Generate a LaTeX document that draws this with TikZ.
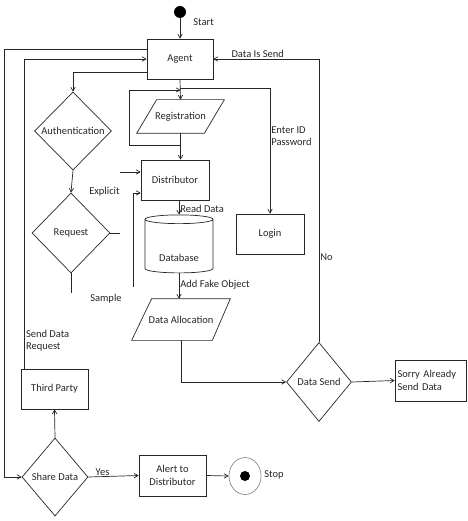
\documentclass[tikz,border=0pt]{standalone}
\usepackage{fontspec}
\setmainfont{Carlito}
\usepackage{tikz}
\usetikzlibrary{arrows,shapes.geometric}

\tikzset{
  box/.style={draw,rectangle,minimum width=67pt,minimum height=40pt,inner sep=2pt},
  dec/.style={draw,diamond,aspect=1,inner sep=0pt},
  lbl/.style={inner sep=1pt}
}

\begin{document}
\begin{tikzpicture}[x=1pt,y=-1pt,>=angle 60,line width=0.7pt,draw=black!85,
    every node/.style={font=\fontsize{10.5}{12.5}\selectfont,text=black!85}]
  \useasboundingbox (0,0) rectangle (467,521);

  % start / agent
  \node[circle,fill=black,minimum size=12pt,inner sep=0pt] (start) at (180,12) {};
  \node[lbl,anchor=west] (starttxt) at (192,22) {Start};
  \node[box,minimum width=66pt] (agent) at (180,59) {Agent};

  % left column
  \node[dec,minimum width=77pt,minimum height=78pt,label=center:Authentication] (auth) at (73,131) {};
  \node[dec,minimum width=78pt,minimum height=80pt,label=center:Request] (req) at (71,233) {};
  \node[box] (third) at (54.5,389) {Third Party};
  \node[dec,minimum width=66pt,minimum height=78pt,label=center:Share Data] (share) at (55,477) {};
  \node[box,align=center,minimum height=41pt] (alert) at (172.5,475.5) {Alert to\\Distributor};
  \node[ellipse,draw=black!45,minimum width=32pt,minimum height=37pt,inner sep=0pt] (stop) at (245,476) {};
  \fill[black] (stop.center) circle (5pt);
  \node[lbl,anchor=west] (stoptxt) at (263,475) {Stop};

  % middle column
  \node[minimum width=87pt,minimum height=33pt] (reg) at (180.5,116.5) {Registration};
  \draw ([xshift=20pt]reg.north west) -- (reg.north east)
        -- ([xshift=-20pt]reg.south east) -- (reg.south west) -- cycle;
  \node[box,minimum width=68pt] (dist) at (175,180) {Distributor};
  \node[draw,cylinder,shape border rotate=90,aspect=0.2,minimum width=68pt,
        minimum height=58pt,inner sep=2pt] (db) at (179,247) {\raisebox{-14pt}[0pt][0pt]{Database}};
  \node[minimum width=98pt,minimum height=41pt] (alloc) at (181,319.5) {Data Allocation};
  \draw ([xshift=20pt]alloc.north west) -- (alloc.north east)
        -- ([xshift=-18pt]alloc.south east) -- (alloc.south west) -- cycle;

  % right column
  \node[box,minimum width=68pt] (login) at (270,234) {Login};
  \node[dec,minimum width=65pt,minimum height=79pt,label=center:Data Send] (dsend) at (319,382) {};
  \node[box,minimum width=71pt,minimum height=41pt,text width=66pt,align=left] (sorry) at (430.5,380.5) {Sorry Already\\Send Data};

  % free ends
  \coordinate (reqe) at (120,233);
  \coordinate (reqs) at (71,293);
  \coordinate (expl) at (120,172);
  \coordinate (smpl) at (133,287);
  \coordinate (rl1) at (129,145);
  \coordinate (rl2) at (129,90);

  \draw[->] (start) -- (agent);
  \draw[->] ([yshift=10pt]agent.west) -- +(-142,0) |- (share.west);
  \draw[->] ([xshift=4pt]third.north west) |- node[pos=0.045,right,align=left,lbl] {Send Data\\Request} (agent.west);
  \draw[->] ([yshift=-13pt]agent.west) -| (auth.north);
  \draw[->] (auth.south) -- (req.north);
  \draw (req.east) -- (reqe);
  \draw (req.south) -- (reqs);
  \draw[->] (expl) -- (expl -| dist.west);
  \draw[->] (smpl) |- ([yshift=-13pt]dist.west);
  \node[lbl,anchor=east] (expltxt) at (121,192) {Explicit};
  \node[lbl,anchor=east] (smpltxt) at (123,299) {Sample};

  \draw[->] (agent.south) -- (reg.north);
  \draw[->] (agent.south) ++(0,9) -| node[pos=0.69,right,align=left,lbl] {Enter ID\\Password} (login.north);
  \draw[->] (reg.south) -- (reg.south |- dist.north);
  \draw[->] (reg.south |- rl1) -- (rl1) -- (rl2) -- (reg.north |- rl2);
  \draw[->] (db.north |- dist.south) -- node[right,lbl,pos=0.6] {Read Data} (db.north);
  \draw[->] (db.south) -- node[right,lbl,pos=0.45] {Add Fake Object} (db.south |- alloc.north);
  \draw[->] (alloc.south) |- (dsend.west);
  \draw[->] (dsend.east) -- (sorry.west);
  \draw[->] (dsend.north) |- node[pos=0.15,right,lbl] {No} node[pos=0.79,above,lbl] {Data Is Send} (agent.east);

  \draw[->] (share.north) -- (third.south);
  \path[->] (share.east) edge node[pos=0.12,above right,lbl] {Yes} (alert.west)
            (alert.east) edge (stop.west);
\end{tikzpicture}
\end{document}
